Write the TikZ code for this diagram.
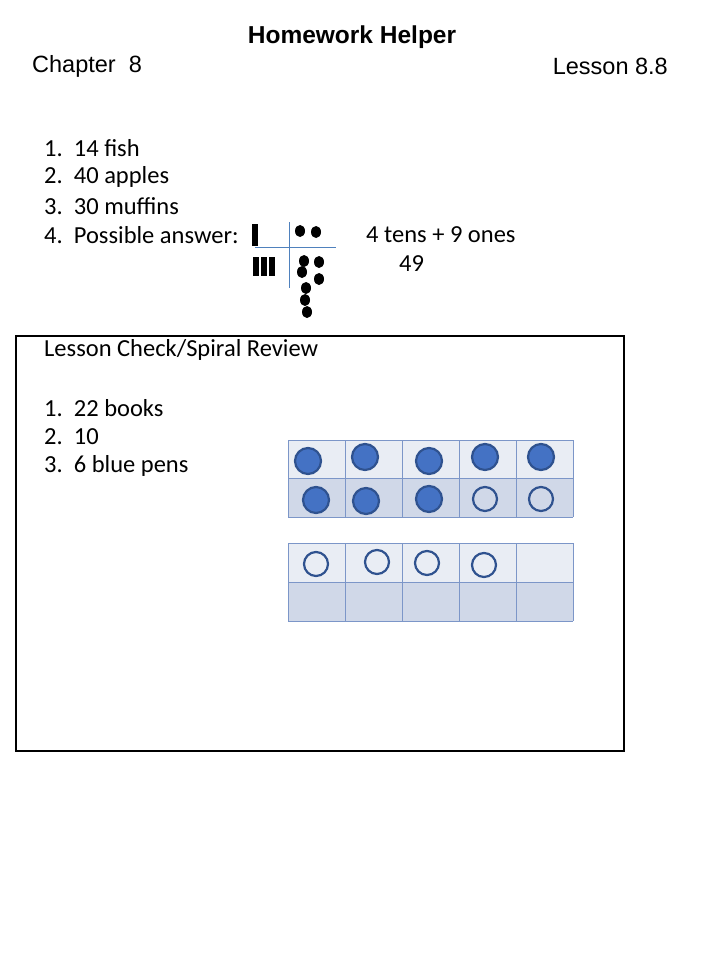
\documentclass[tikz,border=0pt]{standalone}
\usepackage{fontspec}
\usetikzlibrary{shapes.geometric}
\setmainfont{Carlito}
\newfontfamily\arialf{Liberation Sans}
\begin{document}
\begin{tikzpicture}[x=1pt,y=-1pt,
  txt/.style={anchor=west,inner sep=0pt,font=\fontsize{24.5}{28}\selectfont},
  fill1/.style={circle,draw={rgb,255:red,47;green,82;blue,143},line width=2.2pt,fill={rgb,255:red,68;green,114;blue,196},minimum size=26pt,inner sep=0pt},
  open1/.style={circle,draw={rgb,255:red,47;green,82;blue,143},line width=2.2pt,fill=none,minimum size=24pt,inner sep=0pt},
  dotb/.style={ellipse,fill=black,minimum width=10pt,minimum height=12pt,inner sep=0pt}]
\useasboundingbox (0,0) rectangle (720,960);
\node[font=\arialf\bfseries\fontsize{24.5}{28}\selectfont] (title) at (352,37) {Homework Helper};
\node[anchor=west,inner sep=0pt,font=\arialf\fontsize{23.5}{28}\selectfont] (ch) at (32,66) {Chapter\ \ 8};
\node[anchor=east,inner sep=0pt,font=\arialf\fontsize{23.5}{28}\selectfont] (ls) at (668,66) {Lesson 8.8};
\node[txt] (a1) at (44,148) {1.\ \ 14 fish};
\node[txt] (a2) at (44,177) {2.\ \ 40 apples};
\node[txt] (a3) at (44,206) {3.\ \ 30 muffins};
\node[txt] (a4) at (44,235) {4.\ \ Possible answer:};
\node[txt] (a5) at (366,235) {4 tens + 9 ones};
\node[txt] (a6) at (399,264) {49};
% tally chart
\draw[color={rgb,255:red,79;green,129;blue,189},line width=0.8pt] (289,222) -- (289,288);
\draw[color={rgb,255:red,79;green,129;blue,189},line width=0.8pt] (255,247) -- (336,247);
\foreach \x/\a/\b in {255/224/246,256/257/276,264/257/276,272/257/276}
  \fill[black] (\x-2.7,\a) rectangle (\x+2.7,\b);
\foreach \x/\y [count=\i] in {300/231,316/232,304/261,319/262,302/272,319/279,306/288,305/300,307/312}
  \node[dotb] (d\i) at (\x,\y) {};
% review box
\draw[line width=2.5pt] (16,336) rectangle (624,751);
\node[txt] (r0) at (44,350) {Lesson Check/Spiral Review};
\node[txt] (r1) at (44,408) {1.\ \ 22 books};
\node[txt] (r2) at (44,437) {2.\ \ 10};
\node[txt] (r3) at (44,466) {3.\ \ 6 blue pens};
% ten frames
\foreach \t/\b in {440/517,543/621}{
  \pgfmathsetmacro\m{(\t+\b)/2}
  \fill[color={rgb,255:red,233;green,237;blue,244}] (288,\t) rectangle (573,\m);
  \fill[color={rgb,255:red,208;green,216;blue,232}] (288,\m) rectangle (573,\b);
  \draw[color={rgb,255:red,124;green,150;blue,200},line width=0.8pt] (288,\t) -- (573,\t) (288,\m) -- (573,\m) (288,\b) -- (573,\b);
  \foreach \x in {288,345,402,459,516,573}
    \draw[color={rgb,255:red,124;green,150;blue,200},line width=0.8pt] (\x,\t) -- (\x,\b);
}
\node[fill1] (c1) at (308,461) {};
\node[fill1] (c2) at (365,457) {};
\node[fill1] (c3) at (429,461) {};
\node[fill1] (c4) at (485,457) {};
\node[fill1] (c5) at (541,457) {};
\node[fill1] (c6) at (316,500) {};
\node[fill1] (c7) at (366,501) {};
\node[fill1] (c8) at (429,499) {};
\node[open1] (c9) at (485,499) {};
\node[open1] (c10) at (541,499) {};
\node[open1] (e1) at (316,564) {};
\node[open1] (e2) at (377,562) {};
\node[open1] (e3) at (427,563) {};
\node[open1] (e4) at (484,565) {};
\end{tikzpicture}
\end{document}
